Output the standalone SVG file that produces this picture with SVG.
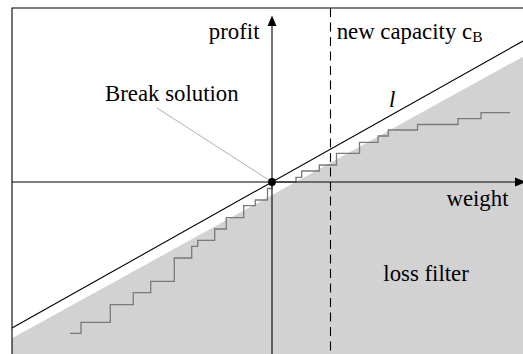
<svg xmlns="http://www.w3.org/2000/svg" width="523" height="354" viewBox="0 0 523 354">
<style>
.t{font-family:"Liberation Serif","Times New Roman",serif;font-size:22.8px;fill:#000}
.ax{stroke:#000;stroke-width:1.1;fill:none}
.stair{stroke:#7a7a7a;stroke-width:1.3;fill:none}
</style>
<rect width="523" height="354" fill="#fff"/>
<g id="loss-filter-region">
<polygon points="12,338.3 523,56.7 523,354 12,354" fill="#d2d2d2"/>
</g>
<g id="frame">
<polyline class="ax" points="12,354 12,8 523,8"/>
</g>
<g id="capacity-line">
<line x1="330.5" y1="8" x2="330.5" y2="354" stroke="#000" stroke-width="1.1" stroke-dasharray="9 5.5"/>
</g>
<g id="staircase">
<polyline class="stair" points="70,333.3 81,333.3 81,322.3 110.3,322.3 110.3,304.7 133.3,304.7 133.3,292.7 150.7,292.7 150.7,281.3 174.3,281.3 174.3,258 191.7,258 191.7,246.3 197.7,246.3 197.7,240.3 214.7,240.3 214.7,229 226.3,229 226.3,217.7 243.7,217.7 243.7,205.7 255.3,205.7 255.3,200 267.5,200 267.5,188.5 272,188.5 272,182 296,182 296,177.3 301.7,177.3 301.7,171 319.3,171 319.3,165 336.5,165 336.5,153.3 359.5,153.3 359.5,142.3 378,142.3 378,136 388.3,136 388.3,130 417.5,130 417.5,124.5 458,124.5 458,118.7 481,118.7 481,112.7 510,112.7"/>
</g>
<g id="line-l">
<line x1="12" y1="328" x2="523" y2="41" stroke="#000" stroke-width="1.1"/>
</g>
<g id="axes">
<line class="ax" x1="272" y1="354" x2="272" y2="25"/>
<polygon points="272,15.5 267.5,26 276.5,26" fill="#000"/>
<line class="ax" x1="12" y1="182" x2="516" y2="182"/>
<polygon points="526,182 515,177.5 515,186.5" fill="#000"/>
</g>
<g id="break-solution">
<line x1="157" y1="108" x2="272" y2="182" stroke="#a8a8a8" stroke-width="0.9"/>
<circle cx="272" cy="182" r="3.9" fill="#000"/>
<text class="t" x="105" y="101">Break solution</text>
</g>
<g id="labels">
<text class="t" x="259.5" y="38.5" text-anchor="end">profit</text>
<text class="t" x="336.7" y="38.5">new capacity c<tspan font-size="15.5" dy="3.5">B</tspan></text>
<text class="t" x="389" y="107" font-style="italic">l</text>
<text class="t" x="508.5" y="206" text-anchor="end">weight</text>
<text class="t" x="383.3" y="281">loss filter</text>
</g>
</svg>
